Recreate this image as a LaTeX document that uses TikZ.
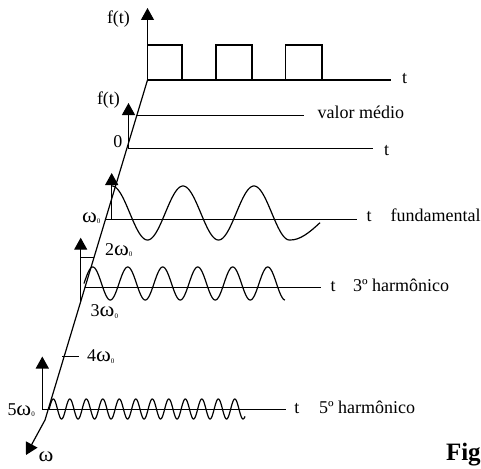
\documentclass[tikz,border=0pt]{standalone}
\usepackage{fontspec}
\setmainfont{Liberation Serif}
\usetikzlibrary{arrows.meta}
\newcommand\wsym{\scalebox{1.25}[1.15]{ω}}
\newcommand\wz{\wsym\raisebox{-1.5pt}{\fontsize{7}{7}\selectfont 0}}
\begin{document}
\begin{tikzpicture}[x=1pt,y=-1pt,line width=1.2pt,
  ar/.style={-{Triangle[length=12pt,width=13pt]}},
  lbl/.style={anchor=base west,inner sep=0pt,outer sep=0pt,font=\fontsize{18}{20}\selectfont},
  figlbl/.style={anchor=base west,inner sep=0pt,outer sep=0pt,font=\fontsize{25}{27}\selectfont\bfseries},
  wave/.style={line width=1.2pt,line join=round}]
\useasboundingbox (0,0) rectangle (481,468);
% axis points
\coordinate (A) at (147.5,80);
\coordinate (B) at (45,420);
\coordinate (C) at (26,455);
\draw[ar] (A) -- (B) -- (C);
% top: square wave
\coordinate (ftop) at (147.5,8);
\coordinate (tend1) at (391,80);
\draw[ar] (A) -- (ftop);
\draw (A) -- (tend1);
\draw (147.5,80) -- (147.5,45) -- (182,45) -- (182,80);
\draw (216,80) -- (216,45) -- (252,45) -- (252,80);
\draw (285.7,80) -- (285.7,45) -- (322,45) -- (322,80);
\node[lbl] (ft1) at (107,24) {f(t)};
\node[lbl] (t1) at (402,83.3) {t};
% mean value
\coordinate (vm0) at (136.7,115.7);
\coordinate (vm1) at (304,115.7);
\draw (vm0) -- (vm1);
\coordinate (z0) at (128.5,148.7);
\coordinate (z1) at (373,148.7);
\coordinate (ztop) at (128.5,103);
\draw (z0) -- (z1);
\draw[ar] (z0) -- (ztop);
\node[lbl] (ft2) at (97,104) {f(t)};
\node[lbl] (vm) at (317.7,118.3) {valor médio};
\node[lbl] (t2) at (384,155) {t};
\node[lbl] (zero) at (113.3,147.7) {0};
% fundamental
\coordinate (f0) at (105.5,219.3);
\coordinate (f1) at (356.7,219.3);
\coordinate (fa) at (111.7,219.3);
\coordinate (fat) at (111.7,173);
\draw (f0) -- (f1);
\draw[ar] (fa) -- (fat);
\draw[wave] plot[domain=112:289.5,samples=240] (\x,{213-27*cos((\x-112)/71*360)})
  .. controls (300,240.5) and (310,232) .. (320,222.7);
\node[lbl] (w1) at (82,222) {\wz};
\node[lbl] (t3) at (366.7,221.7) {t};
\node[lbl] (fund) at (390.7,221.7) {fundamental};
% third harmonic
\coordinate (h0) at (85,287.7);
\coordinate (h1) at (321,287.7);
\coordinate (ha) at (80.7,301.6);
\coordinate (hat) at (80.7,237.7);
\draw (h0) -- (h1);
\draw[ar] (ha) -- (hat);
\coordinate (k2a) at (80.7,257.3);
\coordinate (k2b) at (94,257.3);
\draw (k2a) -- (k2b);
\draw[wave] plot[domain=84:285,samples=300] (\x,{283.5-16.5*sin((\x-84)/35*360)});
\node[lbl] (w2) at (105,255) {2\wz};
\node[lbl] (w3) at (90.7,316.7) {3\wz};
\node[lbl] (t4) at (330.7,291.7) {t};
\node[lbl] (h3) at (353,291.7) {3º harmônico};
% 4 omega tick
\coordinate (k4a) at (62,356.7);
\coordinate (k4b) at (79.3,356.7);
\draw (k4a) -- (k4b);
\node[lbl] (w4) at (87,361.7) {4\wz};
% fifth harmonic
\coordinate (p0) at (42.3,409.3);
\coordinate (p1) at (286,409.3);
\coordinate (pat) at (42.3,356.5);
\draw (p0) -- (p1);
\draw[ar] (p0) -- (pat);
\draw[wave] plot[domain=49.2:245,samples=400] (\x,{409-10*sin((\x-49.2)/16.5*360)});
\node[lbl] (w5) at (7.5,415) {5\wz};
\node[lbl] (t5) at (294.3,413) {t};
\node[lbl] (h5) at (319,413) {5º harmônico};
\node[lbl] (om) at (38.5,461.7) {\wsym};
\node[figlbl] (fig) at (446,460) {Fig};
\end{tikzpicture}
\end{document}
